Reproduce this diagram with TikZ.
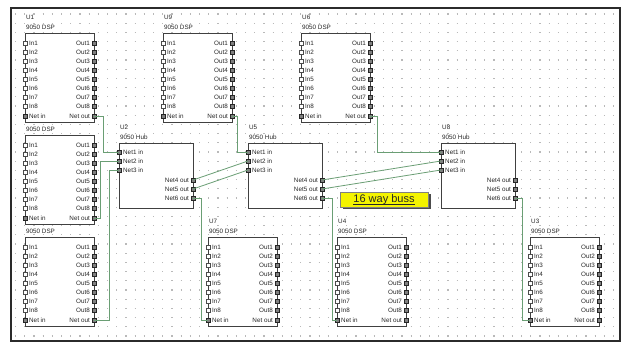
\documentclass[tikz,border=0pt]{standalone}
\usepackage{fontspec}
\setmainfont{Liberation Sans}
\definecolor{wirecolor}{HTML}{6A9E74}
\definecolor{framecolor}{HTML}{2B2B2B}
\definecolor{bussyellow}{HTML}{F4F400}
\tikzset{
  sch frame/.style={draw=framecolor,line width=2.4pt},
  sch dots/.style={gray!55,line width=1.1pt,dash pattern=on 1.1pt off 8.1pt},
  sch box/.style={draw=black!75,fill=white,line width=.8pt},
  sch text/.style={font=\fontsize{6.3}{7}\selectfont,inner sep=0pt,text=black!85},
  sch open pin/.style={draw=black!70,fill=white,line width=.5pt},
  sch net pin/.style={draw=black!85,fill=black!50,line width=.5pt},
  sch wire/.style={wirecolor,line width=.8pt},
  sch note/.style={fill=bussyellow,draw=black!50,line width=.4pt,minimum width=88pt,
    minimum height=15pt,inner sep=0pt,font=\fontsize{11}{12}\selectfont},
  dsp/.pic={
    \draw[sch box] (0,0) rectangle (69,89);
    \node[sch text,anchor=base west] (-id) at (1,-13) {#1};
    \node[sch text,anchor=base west] (-kind) at (1,-3) {9050 DSP};
    \foreach \k [evaluate=\k as \yy using 1+9*\k] in {1,...,8}{
      \draw[sch open pin] (-1.8,\yy-1.8) rectangle ++(3.6,3.6);
      \node[sch text,anchor=west] (-in\k) at (4,\yy) {In\k};
      \node[sch text,anchor=east] (-out\k) at (65,\yy) {Out\k};
      \draw[sch net pin] (67.2,\yy-1.8) rectangle ++(3.6,3.6);
    }
    \coordinate (-netin) at (0,83);
    \coordinate (-netout) at (69,83);
    \draw[sch net pin] (-1.8,81.2) rectangle ++(3.6,3.6);
    \draw[sch net pin] (67.2,81.2) rectangle ++(3.6,3.6);
    \node[sch text,anchor=west] (-netintext) at (4,83) {Net in};
    \node[sch text,anchor=east] (-netouttext) at (65,83) {Net out};
  },
  hub/.pic={
    \draw[sch box] (0,0) rectangle (74,65);
    \node[sch text,anchor=base west] (-id) at (1,-13) {#1};
    \node[sch text,anchor=base west] (-kind) at (1,-3) {9050 Hub};
    \foreach \k/\yy in {1/9,2/18,3/27}{
      \coordinate (-n\k) at (0,\yy);
      \draw[sch net pin] (-1.8,\yy-1.8) rectangle ++(3.6,3.6);
      \node[sch text,anchor=west] (-t\k) at (4,\yy) {Net\k\ in};
    }
    \foreach \k/\yy in {4/37,5/46,6/55.5}{
      \coordinate (-n\k) at (74,\yy);
      \draw[sch net pin] (72.2,\yy-1.8) rectangle ++(3.6,3.6);
      \node[sch text,anchor=east] (-t\k) at (70,\yy) {Net\k\ out};
    }
  }
}

\begin{document}
\begin{tikzpicture}[x=1pt,y=-1pt]
  \useasboundingbox (0,0) rectangle (625,344);
  \fill[white] (0,0) rectangle (625,344);
  % dotted grid of the sheet
  \foreach \yy in {14,23.2,...,337}{\draw[sch dots] (15,\yy) -- (617,\yy);}
  \draw[sch frame] (11,8) rectangle (620,341);
  % DSP units
  \pic (u11) at (25,237) {dsp={}};
  \pic (u10) at (25,135) {dsp={}};
  \pic (u1) at (25,33) {dsp=U1};
  \pic (u9) at (163,33) {dsp=U9};
  \pic (u6) at (301,33) {dsp=U6};
  \pic (u7) at (208,237) {dsp=U7};
  \pic (u4) at (337,237) {dsp=U4};
  \pic (u3) at (530,237) {dsp=U3};
  % hubs
  \pic (u2) at (119,143) {hub=U2};
  \pic (u5) at (248,143) {hub=U5};
  \pic (u8) at (441,143) {hub=U8};
  % wiring
  \draw[sch wire] (u1-netout) -- ++(9,0) |- (u2-n1);
  \draw[sch wire] (u10-netout) -- ++(6,0) |- (u2-n2);
  \draw[sch wire] (u11-netout) -- ++(15,0) |- (u2-n3);
  \draw[sch wire] (u9-netout) -- ++(5,0) |- (u5-n1);
  \draw[sch wire] (u6-netout) -- ++(7,0) |- (u8-n1);
  \draw[sch wire] (u2-n4) -- (u5-n2);
  \draw[sch wire] (u2-n5) -- (u5-n3);
  \draw[sch wire] (u5-n4) -- (u8-n2);
  \draw[sch wire] (u5-n5) -- (u8-n3);
  \draw[sch wire] (u2-n6) -- ++(8,0) |- (u7-netin);
  \draw[sch wire] (u5-n6) -- ++(10,0) |- (u4-netin);
  \draw[sch wire] (u8-n6) -- ++(7,0) |- (u3-netin);
  % buss note
  \fill[black!70] (342.5,194) rectangle ++(88,15);
  \node[sch note] (buss) at (384,199.5) {};
  \node[font=\fontsize{11}{12}\selectfont,inner sep=0pt,text=black!85] (busstext) at (buss) {16 way buss};
  \draw[black!85,line width=.6pt] ([yshift=-1.6pt]busstext.base west) -- ([yshift=-1.6pt]busstext.base east);
\end{tikzpicture}
\end{document}
